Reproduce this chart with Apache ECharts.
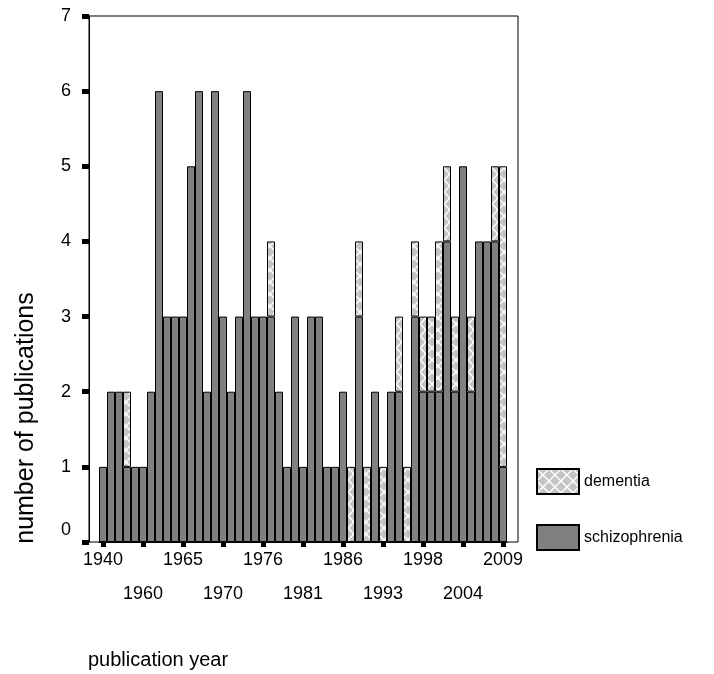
<!DOCTYPE html>
<html>
<head>
<meta charset="utf-8">
<script src="https://cdn.jsdelivr.net/npm/echarts@6/dist/echarts.min.js"></script>
<style>
html,body{margin:0;padding:0;background:#fff;}
#chart{width:714px;height:674px;}
</style>
</head>
<body>
<div id="chart"></div>
<script>
// Categories (publication years with at least one publication)
const years = [
  '1940','1946','1950','1952','1955','1960','1961','1962','1963','1964',
  '1965','1966','1967','1968','1969','1970','1971','1972','1973','1974',
  '1976','1977','1978','1979','1980','1981','1982','1983','1984','1985',
  '1986','1987','1988','1990','1991','1993','1994','1995','1996','1997',
  '1998','1999','2000','2001','2003','2004','2005','2006','2007','2008',
  '2009'
];
const schizophrenia = [
  1,2,2,1,1,1,2,6,3,3,
  3,5,6,2,6,3,2,3,6,3,
  3,3,2,1,3,1,3,3,1,1,
  2,0,3,0,2,0,2,2,0,3,
  2,2,2,4,2,5,2,4,4,4,
  1
];
const dementia = [
  0,0,0,1,0,0,0,0,0,0,
  0,0,0,0,0,0,0,0,0,0,
  0,1,0,0,0,0,0,0,0,0,
  0,1,1,1,0,1,0,1,1,1,
  1,1,2,1,1,0,1,0,0,1,
  4
];
const seriesNames = ['dementia', 'schizophrenia'];
const xTitle = 'publication year';
const yTitle = 'number of publications';

const FONT = '"Liberation Sans", Arial, sans-serif';

function makePattern() {
  const c = document.createElement('canvas');
  c.width = 12; c.height = 12;
  const g = c.getContext('2d');
  g.fillStyle = '#c4c4c4';
  g.fillRect(0, 0, 12, 12);
  g.strokeStyle = '#ffffff';
  g.lineWidth = 1.4;
  g.beginPath();
  g.moveTo(0, 0); g.lineTo(12, 12);
  g.moveTo(12, 0); g.lineTo(0, 12);
  g.stroke();
  return c;
}

const chart = echarts.init(document.getElementById('chart'), null, {renderer: 'canvas'});
const option = {
  animation: false,
  backgroundColor: '#fff',
  grid: [
    {left: 89, top: 16, width: 429, height: 526, show: true, borderColor: '#000', borderWidth: 1, backgroundColor: 'transparent'},
    {left: 99, top: 16, width: 408, height: 526}
  ],
  xAxis: [
    {gridIndex: 0, type: 'value', show: false, min: 0, max: 1},
    {
      gridIndex: 1, type: 'category', data: years, boundaryGap: true,
      axisLine: {show: true, lineStyle: {color: '#000', width: 1}},
      axisTick: {show: true, interval: 4, alignWithLabel: true, length: 5, lineStyle: {color: '#000', width: 5}},
      axisLabel: {
        interval: 4, margin: 1, lineHeight: 34, fontSize: 18, color: '#000', fontFamily: FONT,
        formatter: function (v, i) { return (Math.floor(i / 5) % 2 === 1) ? '\n' + v : v; }
      },
      splitLine: {show: false}
    }
  ],
  yAxis: [
    {
      gridIndex: 0, type: 'value', min: 0, max: 7, interval: 1,
      axisLine: {show: true, lineStyle: {color: '#000', width: 1}},
      axisTick: {show: true, length: 7, lineStyle: {color: '#000', width: 5}},
      splitLine: {show: false},
      axisLabel: {
        margin: 18, fontSize: 18, color: '#000', fontFamily: FONT,
        formatter: function (v) { return v === 0 ? '{z|0}' : String(v); },
        rich: {z: {padding: [0, 0, 24, 0], fontSize: 18, color: '#000', fontFamily: FONT}}
      }
    },
    {gridIndex: 1, type: 'value', min: 0, max: 7, show: false}
  ],
  legend: {
    data: seriesNames,
    orient: 'vertical',
    left: 531, top: 463,
    itemWidth: 42, itemHeight: 25, itemGap: 29,
    icon: 'rect',
    textStyle: {fontSize: 16, color: '#000', fontFamily: FONT}
  },
  series: [
    {
      name: 'schizophrenia', type: 'bar', xAxisIndex: 1, yAxisIndex: 1, stack: 'all',
      barCategoryGap: '0%', data: schizophrenia,
      itemStyle: {color: '#808080', borderColor: '#000', borderWidth: 1}
    },
    {
      name: 'dementia', type: 'bar', xAxisIndex: 1, yAxisIndex: 1, stack: 'all',
      barCategoryGap: '0%', data: dementia.map(v => v === 0 ? '-' : v),
      itemStyle: {color: {image: makePattern(), repeat: 'repeat'}, borderColor: '#000', borderWidth: 1}
    }
  ],
  graphic: [
    {type: 'text', x: 88, y: 660, style: {text: xTitle, font: '20px ' + FONT, fill: '#000', textVerticalAlign: 'middle'}},
    {type: 'text', x: 26, y: 418, rotation: Math.PI / 2, style: {text: yTitle, font: '25px ' + FONT, fill: '#000', textAlign: 'center', textVerticalAlign: 'middle'}}
  ]
};
chart.setOption(option);
</script>
</body>
</html>
